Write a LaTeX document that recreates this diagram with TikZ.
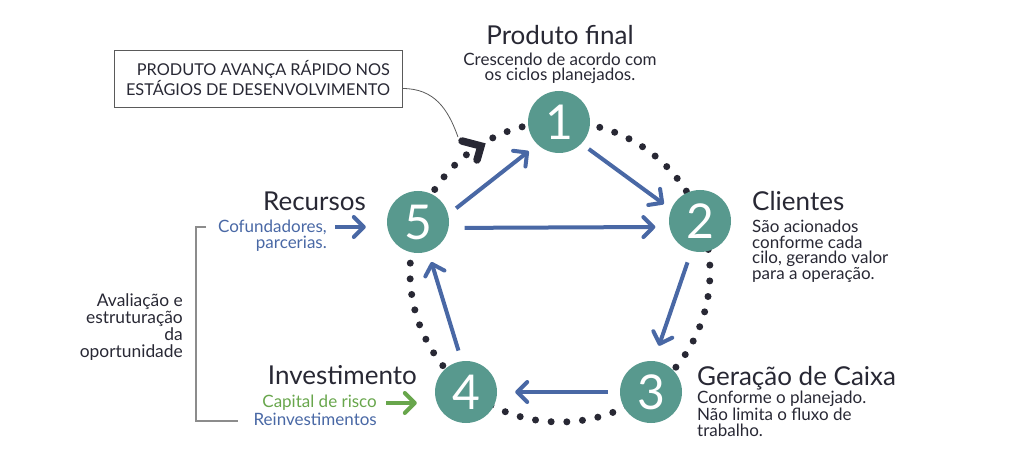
\documentclass[tikz,border=0pt]{standalone}
\usepackage{fontspec}
\setmainfont{Lato}
\usetikzlibrary{arrows.meta,calc}
\definecolor{tealc}{RGB}{88,153,142}
\definecolor{bluec}{RGB}{73,104,165}
\definecolor{greenc}{RGB}{104,166,76}
\definecolor{darkc}{RGB}{40,40,52}
\definecolor{grayc}{RGB}{140,140,140}
\definecolor{boxc}{RGB}{90,90,90}
\begin{document}
\begin{tikzpicture}[x=1pt,y=-1pt,
  num/.style={circle, fill=tealc, minimum size=62pt, inner sep=0pt, text=white, font=\fontsize{48}{48}\selectfont},
  ttl/.style={font=\fontsize{26}{28}\selectfont, text=darkc, inner sep=0pt},
  sub/.style={font=\fontsize{17}{15.6}\selectfont, text=darkc, inner sep=0pt},
  bsub/.style={font=\fontsize{17}{15.6}\selectfont, text=bluec, inner sep=0pt},
  flow/.style={draw=bluec, line width=4pt, -{Straight Barb[round,length=10pt,width=20pt]}},
  gflow/.style={draw=greenc, line width=4pt, -{Straight Barb[round,length=10pt,width=20pt]}},
  dots/.style={draw=darkc, line width=7pt, line cap=round, dash pattern=on 0pt off 15.708pt, dash phase=6.8pt},
  notebox/.style={draw=boxc, line width=0.9pt, minimum width=288pt, minimum height=57pt, inner sep=0pt, align=right, text=darkc, font=\fontsize{16.3}{20}\selectfont}
]
\useasboundingbox (0,0) rectangle (1024,470);

% dotted cycle
\draw[dots] (560,272) circle[radius=150];

% chevron
\draw[darkc, line width=7.5pt, line cap=round, line join=miter] (462,141) -- (481,146) -- (477,160);
\coordinate (chev) at (458,137);

% numbered nodes
\node[num] (n1) at (559,122) {1};
\node[num] (n2) at (700,221) {2};
\node[num] (n3) at (651,392) {3};
\node[num] (n4) at (466,392) {4};
\node[num] (n5) at (418,222) {5};

% flows
\draw[flow, shorten <=10pt, shorten >=11pt] (n5.14) -- (n1.226);
\draw[flow, shorten <=9pt, shorten >=9pt] (n1.316) -- (n2.158);
\draw[flow, shorten <=16pt, shorten >=14pt] (n5.-11) -- (n2.191);
\draw[flow, shorten <=12pt, shorten >=16pt] (n2.254) -- (n3.85);
\draw[flow, shorten <=12pt, shorten >=18pt] (n3.180) -- (n4.0);
\draw[flow, shorten <=11pt, shorten >=11pt] (n4.98) -- (n5.289);

% titles (multi-line nodes are anchored at the baseline of their last line)
\node[ttl, anchor=base] (t1) at (560,45) {Produto final};
\node[sub, anchor=base, align=center] (s1) at (560,81) {Crescendo de acordo com\\os ciclos planejados.};

\node[ttl, anchor=base west] (t2) at (752,211) {Clientes};
\node[sub, anchor=base west, align=left] (s2) at (752,279.5) {São acionados\\conforme cada\\cilo, gerando valor\\para a operação.};

\node[ttl, anchor=base west] (t3) at (697,385) {Geração de Caixa};
\node[sub, anchor=base west, align=left] (s3) at (697,436) {Conforme o planejado.\\Não limita o fluxo de\\trabalho.};

\node[ttl, anchor=base east] (t5) at (366,211) {Recursos};
\node[bsub, anchor=base east, align=right] (s5) at (327,248) {Cofundadores,\\parcerias.};

\node[ttl, anchor=base east] (t4) at (417,384) {Investimento};
\node[sub, text=greenc, anchor=base east] (s4a) at (377,407) {Capital de risco};
\node[bsub, anchor=base east] (s4b) at (377,425) {Reinvestimentos};

% input arrows
\coordinate (cofend) at (335,227);
\draw[flow] (cofend) -- ($(n5.west |- cofend)+(-21,0)$);
\coordinate (capend) at (386,403);
\draw[gflow] (capend) -- ($(n4.west |- capend)+(-18,0)$);

% bracket
\draw[grayc, line width=1.3pt] (206,227) -- (196,227) -- (196,421) -- (238,421);
\node[sub, anchor=base east, align=right, font=\fontsize{17.4}{17}\selectfont] (aval) at (183,357) {Avaliação e\\estruturação\\da\\oportunidade};

% note box
\node[notebox] (note) at (258,78.5) {PRODUTO AVANÇA RÁPIDO NOS\\ESTÁGIOS DE DESENVOLVIMENTO};
\draw[boxc, line width=0.8pt] ([yshift=-10pt]note.east) .. controls +(32,0) and +(-10,-28) .. (chev);
\end{tikzpicture}
\end{document}
